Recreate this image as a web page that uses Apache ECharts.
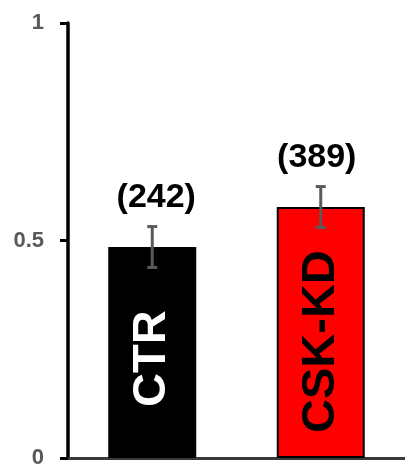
<!DOCTYPE html>
<html>
<head>
<meta charset="utf-8">
<script src="https://cdn.jsdelivr.net/npm/echarts@6/dist/echarts.min.js"></script>
<style>
html,body{margin:0;padding:0;background:#fff;}
#chart{width:405px;height:472px;}
</style>
</head>
<body>
<div id="chart"></div>
<script>
const categories = ['CTR', 'CSK-KD'];
const means = [0.485, 0.577];
const errors = [0.047, 0.047];
const counts = ['(242)', '(389)'];
const yMin = 0, yMax = 1, yStep = 0.5;

const FONT = '"Liberation Sans", Arial, sans-serif';
const barColors = ['#000000', '#ff0000'];
const barBorders = ['#000000', '#000000'];
const innerTextColors = ['#ffffff', '#000000'];
const innerDistances = [51, 25];
const countOffsets = [[4, 0], [-4, 0]];

const chart = echarts.init(document.getElementById('chart'));

const barData = means.map((v, i) => ({
  value: v,
  itemStyle: { color: barColors[i], borderColor: barBorders[i], borderWidth: i === 1 ? 2 : 0 },
  label: {
    show: true,
    position: 'insideBottom',
    distance: innerDistances[i],
    rotate: 90,
    align: 'left',
    verticalAlign: 'middle',
    formatter: categories[i],
    color: innerTextColors[i],
    fontFamily: FONT,
    fontWeight: 'bold',
    fontSize: 47
  }
}));

const countData = means.map((v, i) => ({
  value: v,
  label: {
    show: true,
    position: 'top',
    distance: 49,
    verticalAlign: 'middle',
    offset: countOffsets[i],
    formatter: counts[i],
    color: '#000000',
    fontFamily: FONT,
    fontWeight: 'bold',
    fontSize: 34
  }
}));

const errData = means.map((v, i) => [i, v - errors[i], v + errors[i]]);

chart.setOption({
  animation: false,
  grid: { left: 68, right: 0, top: 23, bottom: 14, containLabel: false },
  xAxis: {
    type: 'category',
    data: categories,
    axisLine: { show: true, lineStyle: { color: '#3a3a3a', width: 3 } },
    axisTick: { show: false },
    axisLabel: { show: false },
    splitLine: { show: false }
  },
  yAxis: {
    type: 'value',
    min: yMin,
    max: yMax,
    interval: yStep,
    axisLine: { show: true, lineStyle: { color: '#000000', width: 3.5 } },
    axisTick: { show: true, inside: false, length: 8, lineStyle: { color: '#000000', width: 3 } },
    axisLabel: { margin: 24, color: '#595959', fontFamily: FONT, fontWeight: 'bold', fontSize: 22 },
    splitLine: { show: false }
  },
  series: [
    {
      type: 'bar',
      data: barData,
      barWidth: 88,
      z: 2
    },
    {
      type: 'bar',
      data: countData,
      barWidth: 88,
      barGap: '-100%',
      itemStyle: { color: 'rgba(0,0,0,0)' },
      z: 1
    },
    {
      type: 'custom',
      data: errData,
      z: 5,
      renderItem: function (params, api) {
        const x = api.value(0);
        const lo = api.coord([x, api.value(1)]);
        const hi = api.coord([x, api.value(2)]);
        const cap = 5;
        const style = { stroke: '#5a5a5a', lineWidth: 3 };
        return {
          type: 'group',
          children: [
            { type: 'line', shape: { x1: lo[0], y1: lo[1], x2: hi[0], y2: hi[1] }, style: style },
            { type: 'line', shape: { x1: lo[0] - cap, y1: lo[1], x2: lo[0] + cap, y2: lo[1] }, style: style },
            { type: 'line', shape: { x1: hi[0] - cap, y1: hi[1], x2: hi[0] + cap, y2: hi[1] }, style: style }
          ]
        };
      }
    }
  ]
});
</script>
</body>
</html>
